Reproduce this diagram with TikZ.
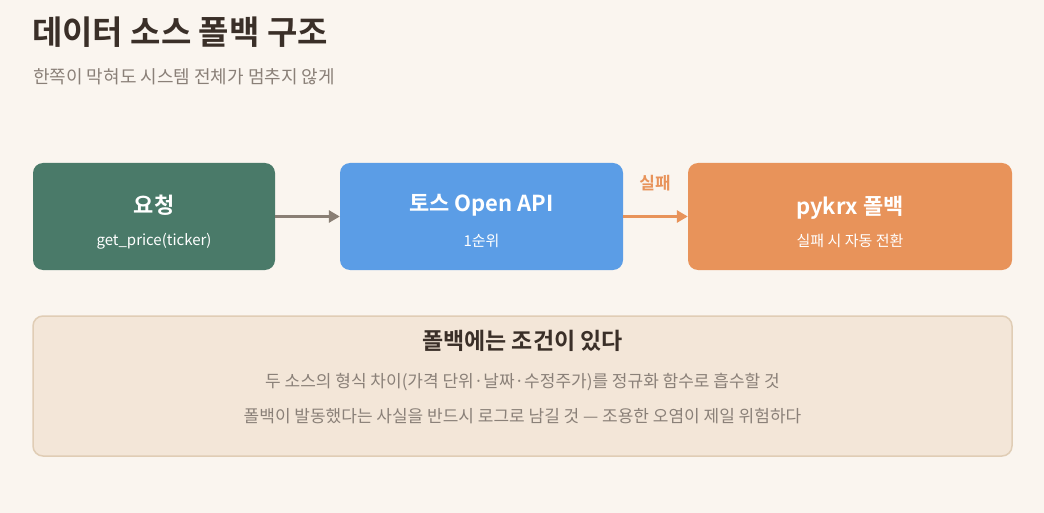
\documentclass[tikz,border=0pt]{standalone}
\usepackage{fontspec}
\setmainfont{Noto Sans CJK KR}[BoldFont={Noto Sans CJK KR Bold}]
\usetikzlibrary{arrows.meta}
\definecolor{bg}{HTML}{FAF5EF}
\definecolor{ttl}{HTML}{3A2F28}
\definecolor{sub}{HTML}{8A8078}
\definecolor{cgreen}{HTML}{4A7A69}
\definecolor{cblue}{HTML}{5B9DE6}
\definecolor{corange}{HTML}{E8935A}
\definecolor{cgray}{HTML}{8A7F75}
\definecolor{nfill}{HTML}{F3E6D8}
\definecolor{nline}{HTML}{E0CDB5}
\begin{document}
\begin{tikzpicture}[x=1pt,y=-1pt,
  box/.style={rounded corners=10pt,draw=none},
  main/.style={text=white,font=\bfseries\fontsize{22}{26}\selectfont},
  subt/.style={text=white,font=\fontsize{15}{18}\selectfont},
  arr/.style={line width=3pt,-{Triangle[length=11pt,width=12pt]}}]
\fill[bg] (0,0) rectangle (1044,513);
\useasboundingbox (0,0) rectangle (1044,513);
\node[anchor=base west,text=ttl,font=\bfseries\fontsize{33}{38}\selectfont,inner sep=0] (title) at (32,45) {데이터 소스 폴백 구조};
\node[anchor=base west,text=sub,font=\fontsize{18}{22}\selectfont,inner sep=0] (subtitle) at (33,84) {한쪽이 막혀도 시스템 전체가 멈추지 않게};
\node[box,fill=cgreen,minimum width=242pt,minimum height=107pt] (a) at (154,216.5) {};
\node[box,fill=cblue,minimum width=283pt,minimum height=107pt] (b) at (481.5,216.5) {};
\node[box,fill=corange,minimum width=324pt,minimum height=107pt] (c) at (850,216.5) {};
\node[main] (at) at (154,205) {요청};
\node[subt] (as) at (154,241) {get\_price(ticker)};
\node[main] (bt) at (481.5,205) {토스 Open API};
\node[subt] (bs) at (481.5,241) {1순위};
\node[main] (ct) at (850,208) {pykrx 폴백};
\node[subt] (cs) at (850,241) {실패 시 자동 전환};
\draw[arr,cgray] (a.east) -- (b.west);
\draw[arr,corange] (b.east) -- (c.west);
\node[text=corange,font=\bfseries\fontsize{17}{20}\selectfont] (fl) at (655,183) {실패};
\node[rounded corners=10pt,draw=nline,line width=1.5pt,fill=nfill,minimum width=979pt,minimum height=140pt] (note) at (522.5,386) {};
\node[text=ttl,font=\bfseries\fontsize{23}{27}\selectfont] (nt) at (522.5,341) {폴백에는 조건이 있다};
\node[text=sub,font=\fontsize{17}{20}\selectfont] (n1) at (522.5,382) {두 소스의 형식 차이(가격 단위·날짜·수정주가)를 정규화 함수로 흡수할 것};
\node[text=sub,font=\fontsize{17}{20}\selectfont] (n2) at (522.5,416) {폴백이 발동했다는 사실을 반드시 로그로 남길 것 — 조용한 오염이 제일 위험하다};
\end{tikzpicture}
\end{document}
